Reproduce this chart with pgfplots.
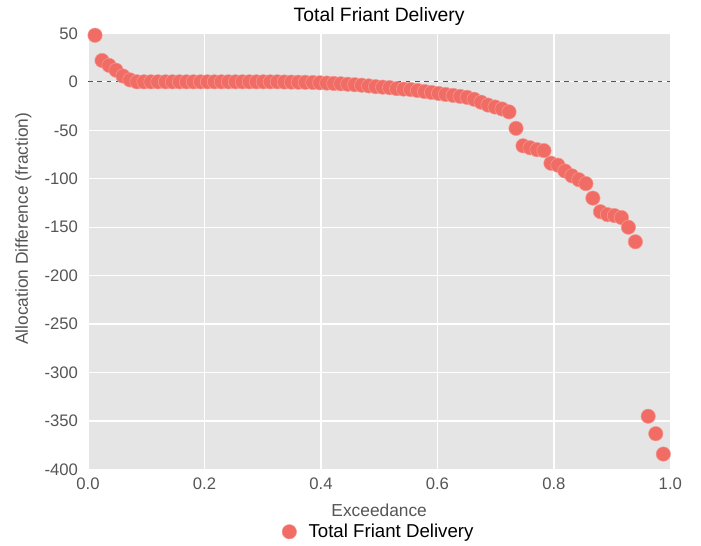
\documentclass[border=0pt]{standalone}
\usepackage{pgfplots}
\pgfplotsset{compat=1.18}
\usepackage{fontspec}
\setmainfont{Liberation Sans}
\definecolor{bgray}{RGB}{229,229,229}
\definecolor{tgray}{RGB}{85,85,85}
\definecolor{salmon}{RGB}{240,108,100}

\begin{document}
\begin{tikzpicture}
\begin{axis}[
    scale only axis,
    width=436.5pt, height=327pt,
    xmin=0, xmax=1, ymin=-400, ymax=50,
    xtick={0,0.2,...,1.0},
    ytick={-400,-350,...,50},
    xticklabel style={/pgf/number format/fixed, /pgf/number format/fixed zerofill,
        /pgf/number format/precision=1, yshift=-2.5pt},
    /pgf/number format/assume math mode=true,
    axis background/.style={fill=bgray},
    axis line style={draw=none},
    major tick length=0pt,
    grid=major,
    major grid style={white, line width=1pt},
    tick label style={font=\fontsize{12.5}{14}\selectfont, text=tgray},
    yticklabel style={xshift=-4pt},
    title={Total Friant Delivery},
    title style={font=\fontsize{14.5}{16}\selectfont, yshift=-4pt},
    xlabel={Exceedance},
    ylabel={Allocation Difference (fraction)},
    label style={font=\fontsize{13}{15}\selectfont, text=tgray},
    xlabel style={yshift=-4pt},
    ylabel style={yshift=3pt, xshift=17pt},
    legend style={at={(0.5,-0.112)}, anchor=north, draw=none, fill=none,
        font=\fontsize{14}{16}\selectfont, text=black},
    legend cell align=left,
    clip=false,
]
\addplot[tgray, dash pattern=on 3.5pt off 3.5pt, line width=1pt, forget plot] coordinates {(0,0) (1,0)};
\addplot[only marks, mark=*, mark size=5.4pt, mark options={fill=salmon, draw=salmon!70!white, line width=0.4pt}]
table {
x y
0.012 48
0.024 22
0.036 17
0.048 12
0.060 6
0.072 2
0.084 0
0.096 0
0.108 0
0.120 0
0.133 0
0.145 0
0.157 0
0.169 0
0.181 0
0.193 0
0.205 0
0.217 0
0.229 0
0.241 0
0.253 0
0.265 0
0.277 0
0.289 0
0.301 0
0.313 0
0.325 0
0.337 -0.2
0.349 -0.3
0.361 -0.4
0.373 -0.5
0.386 -0.7
0.398 -1
0.410 -1.3
0.422 -1.7
0.434 -2
0.446 -2.5
0.458 -3
0.470 -3.5
0.482 -4.2
0.494 -5
0.506 -5.5
0.518 -6
0.530 -7
0.542 -7.5
0.554 -8
0.566 -9
0.578 -10
0.590 -11
0.602 -12
0.614 -13
0.627 -14
0.639 -15
0.651 -16
0.663 -18
0.675 -21
0.687 -24
0.699 -26
0.711 -28
0.723 -31
0.735 -48
0.747 -66
0.759 -68
0.771 -70
0.783 -71
0.795 -84
0.807 -86
0.819 -92
0.831 -97
0.843 -101
0.855 -105
0.867 -120
0.880 -134
0.892 -137
0.904 -138
0.916 -140
0.928 -150
0.940 -165
0.962 -345
0.975 -363
0.988 -384
};
\addlegendentry{\hspace{7pt}Total Friant Delivery}
\end{axis}
\pgfresetboundingbox
\path (current axis.south west) ++(-66pt,-57pt) rectangle ([shift={(23pt,25pt)}]current axis.north east);
\end{tikzpicture}
\end{document}
